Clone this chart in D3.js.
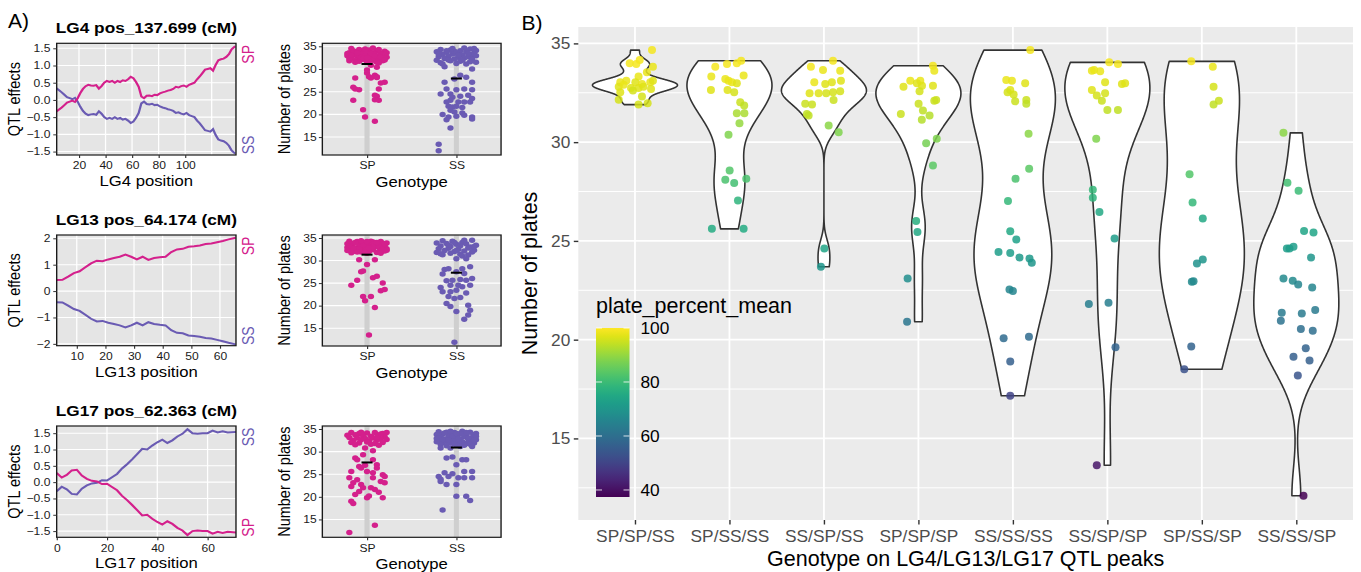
<!DOCTYPE html>
<html lang="en">
<head>
<meta charset="UTF-8">
<script src="https://cdn.jsdelivr.net/npm/d3@7"></script>
<title>QTL effects and number of plates</title>
<style>
  body { margin: 0; background: #fff; }
  svg text { font-family: "Liberation Sans", Arial, Helvetica, sans-serif; }
</style>
</head>
<body>
<svg id="fig" width="1361" height="572"></svg>
<script>
// ---------- panel A : QTL effect profiles ----------
const LG4_POS = [3,5,7,9,11,13,15,17,19,21,23,25,27,29,31,33,35,37,39,41,43,45,47,49,51,53,55,57,59,61,63,65,67,69,71,73,75,77,79,81,83,85,87,89,91,93,95,97,99,101,103,105,107,109,111,113,115,117,119,121,123,125,127,129,131,133,135,137.7];
const LG4_SP = [-0.34,-0.28,-0.22,-0.15,-0.08,-0.05,-0.02,-0.06,0.05,0.2,0.32,0.4,0.44,0.42,0.41,0.43,0.33,0.4,0.5,0.55,0.52,0.55,0.5,0.55,0.52,0.57,0.55,0.6,0.67,0.63,0.52,0.38,0.1,0.05,0.12,0.13,0.11,0.15,0.14,0.19,0.22,0.24,0.27,0.29,0.32,0.38,0.36,0.4,0.42,0.38,0.44,0.47,0.5,0.6,0.68,0.78,0.88,0.9,0.92,0.85,1.02,1.15,1.18,1.2,1.25,1.33,1.47,1.56];
const LG4_SS = [0.34,0.28,0.22,0.15,0.08,0.05,0.02,0.06,-0.05,-0.2,-0.32,-0.4,-0.44,-0.42,-0.41,-0.43,-0.33,-0.4,-0.5,-0.55,-0.52,-0.55,-0.5,-0.55,-0.52,-0.57,-0.55,-0.6,-0.67,-0.63,-0.52,-0.38,-0.1,-0.05,-0.12,-0.13,-0.11,-0.15,-0.14,-0.19,-0.22,-0.24,-0.27,-0.29,-0.32,-0.38,-0.36,-0.4,-0.42,-0.38,-0.44,-0.47,-0.5,-0.6,-0.68,-0.78,-0.88,-0.9,-0.92,-0.85,-1.02,-1.15,-1.18,-1.2,-1.25,-1.33,-1.47,-1.56];

const LG13_POS = [3,5,7,9,11,13,15,17,19,21,23,25,27,29,31,33,35,37,39,41,43,45,47,49,51,53,55,57,59,61,63,65.5];
const LG13_SP = [0.42,0.43,0.55,0.68,0.75,0.9,1.05,1.15,1.13,1.2,1.25,1.3,1.38,1.3,1.2,1.3,1.18,1.25,1.28,1.3,1.48,1.58,1.6,1.68,1.7,1.73,1.78,1.8,1.85,1.9,1.96,2.02];
const LG13_SS = [-0.42,-0.43,-0.55,-0.68,-0.75,-0.9,-1.05,-1.15,-1.13,-1.2,-1.25,-1.3,-1.38,-1.3,-1.2,-1.3,-1.18,-1.25,-1.28,-1.3,-1.48,-1.58,-1.6,-1.68,-1.7,-1.73,-1.78,-1.8,-1.85,-1.9,-1.96,-2.02];

const LG17_POS = [0,2,4,6,8,10,12,14,16,18,20,22,24,26,28,30,32,34,36,38,40,42,44,46,48,50,52,54,56,58,60,62,64,66,68,71.3];
const LG17_SP = [0.28,0.14,0.22,0.36,0.38,0.2,0.1,0.04,0.02,-0.06,-0.05,-0.15,-0.25,-0.42,-0.55,-0.7,-0.86,-1.02,-1.0,-1.12,-1.22,-1.3,-1.2,-1.28,-1.4,-1.48,-1.62,-1.5,-1.48,-1.5,-1.5,-1.58,-1.52,-1.56,-1.52,-1.54];
const LG17_SS = [-0.28,-0.14,-0.22,-0.36,-0.38,-0.2,-0.1,-0.04,-0.02,0.06,0.05,0.15,0.25,0.42,0.55,0.7,0.86,1.02,1.0,1.12,1.22,1.3,1.2,1.28,1.4,1.48,1.62,1.5,1.48,1.5,1.5,1.58,1.52,1.56,1.52,1.54];

// ---------- panel A : number of plates by genotype, [jitter (tenths), plates] ----------
const GENOTYPES = ["SP", "SS"];
const LG4_PTS_SP = [[-8,34.5],[-4,34.3],[1,34.2],[5,34.0],[9,33.9],[-9,33.6],[-6,33.8],[-2,33.7],[3,33.6],[7,33.5],[-7,33.2],[-3,33.3],[0,33.1],[4,33.2],[8,33.3],[-10,32.9],[-5,32.8],[-1,32.9],[2,32.7],[6,32.8],[10,32.6],[-8,32.4],[-4,32.5],[1,32.3],[5,32.4],[9,32.2],[-6,32.0],[-2,32.1],[3,31.9],[7,32.0],[-9,31.8],[-4,31.7],[0,31.6],[5,31.5],[8,31.8],[-7,34.0],[-1,33.9],[6,34.3],[-5,33.5],[2,33.4],[9,33.0],[-3,32.6],[4,32.9],[-9,32.3],[7,32.6],[-6,31.5],[1,31.8],[-1,34.4],[3,34.6],[-10,33.4],[10,33.6],[-2,32.3],[6,31.3],[-8,33.0],[0,32.5],
  [-6,28.0],[-7,26.0],[-6,25.6],[-4,25.4],[-7,23.1],[-2,21.0],[-1,19.4],[4,18.5],[0,29.1],[1,28.3],[2,28.0],[4,28.6],[5,28.3],[5,28.1],[6,25.6],[7,26.9],[9,27.1],[4,24.2],[5,24.0],[4,23.2],[6,23.1],[0,29.8],[2,30.8],[5,30.4],[9,32.0]];
const LG4_PTS_SS = [[-8,34.3],[-3,34.2],[2,34.0],[7,34.4],[10,34.1],[-10,33.8],[-5,33.7],[0,33.6],[5,33.8],[9,33.5],[-7,33.2],[-2,33.3],[3,33.1],[8,33.0],[-9,32.7],[-4,32.8],[1,32.6],[6,32.7],[10,32.9],[-6,32.3],[-1,32.2],[4,32.4],[8,32.1],[-10,31.9],[-3,31.8],[2,31.7],[7,31.6],[-8,31.4],[0,31.2],[5,31.1],[-5,34.0],[4,34.6],[9,34.5],[-1,33.9],[-9,33.3],[6,33.4],[-4,32.0],[3,31.9],[10,31.5],[-7,31.1],[1,33.0],[-2,34.5],
  [-6,30.5],[8,30.0],[2,28.6],[-1,27.8],[5,28.2],[-6,27.1],[8,27.1],[-5,25.6],[0,25.4],[4,25.6],[8,25.4],[-8,24.5],[-3,24.5],[-2,23.8],[2,24.0],[6,24.2],[8,23.5],[-5,22.7],[-3,23.1],[1,22.7],[4,22.7],[7,22.7],[-4,21.8],[-2,21.6],[0,21.8],[3,21.5],[-3,20.9],[-1,20.5],[3,20.3],[-7,20.0],[4,19.8],[-5,18.8],[-4,19.4],[0,19.6],[8,19.4],[8,19.0],[-3,17.0],[-9,13.4],[-9,12.0]];
const LG13_PTS_SP = [[-9,34.3],[-5,34.2],[-1,34.0],[3,34.1],[7,34.2],[10,33.9],[-10,33.7],[-7,33.8],[-3,33.6],[1,33.7],[5,33.5],[8,33.8],[-8,33.3],[-4,33.2],[0,33.3],[4,33.1],[9,33.3],[-10,32.9],[-6,32.8],[-2,32.9],[2,32.7],[6,32.9],[10,32.6],[-9,32.4],[-5,32.5],[-1,32.3],[3,32.4],[7,32.2],[-7,32.0],[-3,31.9],[1,32.0],[5,31.8],[9,32.1],[-8,31.7],[0,31.6],[-6,34.0],[2,34.3],[6,33.2],[-2,33.4],[8,32.5],[-4,32.6],[4,33.9],[-9,33.1],[10,32.3],[-1,31.8],[3,33.0],[-5,31.9],[7,31.6],[-10,32.2],[5,34.0],[-3,34.4],[1,32.8],[9,33.6],[-7,32.7],[0,34.2],
  [-4,30.2],[0,29.1],[4,30.2],[-3,27.5],[-2,27.7],[-5,25.6],[-8,24.5],[3,26.2],[5,26.5],[8,25.0],[7,23.3],[9,23.6],[-2,22.0],[2,22.0],[-1,21.1],[4,19.6],[1,13.5]];
const LG13_PTS_SS = [[-7,34.4],[-2,34.3],[3,34.0],[8,34.5],[-10,33.9],[-5,33.8],[0,33.6],[5,33.7],[10,33.4],[-8,33.2],[-3,33.1],[2,33.3],[7,33.0],[-9,32.6],[-4,32.7],[1,32.5],[6,32.8],[9,32.3],[-6,32.2],[-1,32.0],[4,32.1],[8,31.9],[-10,31.8],[-3,31.6],[2,31.4],[6,31.2],[-7,31.3],[-1,34.0],[4,34.5],[-4,33.4],[9,33.1],[0,32.2],[-8,31.5],[3,31.0],
  [0,30.4],[5,30.4],[-6,28.0],[-4,28.2],[3,28.2],[7,28.6],[4,27.1],[0,27.5],[-7,27.0],[8,26.0],[-5,25.5],[-2,25.6],[2,25.8],[5,25.6],[-8,24.0],[-3,24.5],[1,24.5],[3,24.2],[7,24.5],[-7,23.1],[-3,23.1],[0,23.4],[5,22.8],[-4,22.0],[-1,21.6],[2,21.8],[-5,20.5],[-3,19.8],[6,20.1],[7,19.0],[0,18.7],[6,17.9],[4,17.0],[-1,11.9]];
const LG17_PTS_SP = [[-8,34.2],[-4,34.0],[0,34.1],[4,34.2],[8,34.0],[10,34.2],[-10,33.6],[-6,33.7],[-2,33.5],[2,33.4],[6,33.6],[9,33.3],[-9,33.1],[-5,33.0],[-1,32.9],[3,33.0],[7,32.8],[-7,32.5],[-3,32.6],[1,32.4],[5,32.5],[10,32.7],[-8,32.0],[-4,31.9],[0,32.1],[4,31.8],[8,32.0],[-6,31.5],[2,31.6],[6,31.4],[-1,30.8],[3,30.2],[-2,29.3],[7,33.9],[-3,34.3],[5,33.2],
  [-6,28.6],[-5,28.2],[3,28.2],[5,27.1],[-4,26.7],[-3,26.4],[5,26.4],[-8,25.6],[0,25.6],[3,25.3],[8,24.9],[9,24.5],[-9,24.2],[-5,23.8],[3,24.2],[7,23.4],[9,23.1],[-7,23.1],[-3,22.7],[-2,22.0],[2,22.0],[4,21.6],[-8,22.3],[-4,21.2],[0,19.8],[8,19.8],[-8,19.0],[-7,18.5],[-9,12.1],[4,13.7],[-6,20.5],[1,20.2],[6,21.0],[-1,27.0]];
const LG17_PTS_SS = [[-9,34.4],[-5,34.3],[-1,34.2],[3,34.5],[7,34.3],[10,34.0],[-10,33.8],[-7,33.9],[-3,33.7],[1,33.8],[5,33.6],[9,33.7],[-8,33.3],[-4,33.4],[0,33.2],[4,33.3],[8,33.1],[-10,32.9],[-6,32.8],[-2,32.9],[2,32.7],[6,32.8],[10,32.6],[-9,32.4],[-5,32.3],[-1,32.5],[3,32.2],[7,32.4],[-7,32.0],[-3,31.9],[1,32.0],[5,31.8],[9,31.9],[-8,31.6],[0,31.5],[4,31.4],[-6,34.1],[2,34.0],[6,33.0],[-2,33.4],[8,32.1],[-4,32.6],[-9,33.0],[10,33.4],[-1,31.7],[3,33.9],[-5,31.3],[7,31.6],[-10,32.2],[5,34.2],[1,32.9],[-3,34.5],[9,32.5],[-7,32.7],[0,34.0],
  [-8,30.8],[-3,30.8],[2,31.1],[8,31.1],[-5,28.6],[-2,28.8],[3,28.2],[5,28.2],[0,27.1],[-6,25.3],[-2,25.1],[4,25.6],[8,25.6],[-9,24.5],[-8,23.9],[-4,24.5],[1,24.2],[4,24.2],[8,24.2],[-5,22.7],[0,22.7],[-8,23.4],[0,20.1],[5,20.1],[7,19.2],[-7,17.1]];
const MEANS_LG4 = [31.1, 27.9];
const MEANS_LG13 = [31.3, 27.3];
const MEANS_LG17 = [27.6, 30.9];

// ---------- panel B : [jitter (fraction), plates, plate_percent_mean] ----------
const B_CATS = ["SP/SP/SS","SP/SS/SS","SS/SP/SS","SP/SP/SP","SS/SS/SS","SS/SP/SP","SP/SS/SP","SS/SS/SP"];
const B_SPSPSS = [[0.9,34.66,99],[-0.28,33.99,99],[0.07,33.96,99],[0.25,34.16,99],[0.95,33.82,98],[0.63,33.54,98],[0.19,33.32,98],[-0.78,33.03,98],[-0.46,33.11,98],[0.02,33.03,97],[0.37,32.95,98],[0.81,33.03,98],[0.95,33.11,97],[-0.86,32.81,97],[-0.21,32.74,97],[0.19,32.74,97],[0.85,32.69,97],[-0.11,32.61,96],[-0.78,32.53,97],[-0.86,32.15,96],[0.37,32.31,96],[0.19,31.9,96],[0.67,31.97,96],[0.45,32.8,97],[-0.6,32.9,98]];
const B_SPSSSS = [[-0.75,33.82,99],[-0.13,33.96,99],[0.39,33.99,99],[0.62,34.12,99],[-0.96,33.32,98],[-0.22,33.2,98],[-0.05,33.11,98],[0.13,33.03,98],[0.39,32.98,97],[0.75,33.37,98],[-0.98,32.64,97],[-0.1,32.64,97],[0.25,32.53,96],[0.57,32.02,95],[0.78,31.85,94],[0.39,31.46,92],[0.79,31.46,92],[0.53,30.96,90],[-0.05,30.37,88],[0.01,28.57,83],[-0.22,28.1,82],[0.25,27.93,81],[0.89,28.15,82],[0.45,27.05,78],[-0.93,25.61,76],[0.75,25.61,76]];
const B_SSSPSS = [[-0.69,33.82,99],[0.48,34.12,99],[0.86,33.62,98],[-0.05,33.65,98],[-0.51,33.03,98],[0.07,32.95,97],[0.42,33.03,97],[0.9,33.11,97],[-0.76,32.47,97],[-0.28,32.47,97],[0.12,32.47,96],[0.48,32.53,96],[0.86,32.58,96],[0.51,32.14,95],[-0.99,31.94,95],[-0.63,31.9,95],[-0.9,31.43,94],[-0.81,31.35,94],[0.25,30.84,89],[0.78,30.5,88],[0.02,24.61,74],[-0.16,23.69,70]];
const B_SPSPSP = [[0.77,33.87,99],[0.84,33.62,98],[-0.79,32.81,97],[-0.43,33.11,98],[0.1,33.11,98],[-0.08,32.98,97],[0.19,32.86,97],[0.77,32.86,97],[0.06,32.58,96],[0.84,32.1,95],[0.94,32.14,95],[0.01,31.94,95],[0.24,31.6,94],[-0.93,31.43,95],[0.59,31.35,93],[0.18,31.13,93],[0.97,30.17,88],[0.41,29.95,87],[0.77,28.82,84],[-0.12,26.01,77],[-0.05,25.45,75],[-0.57,23.1,68],[-0.6,20.91,62]];
const B_SSSSSS = [[0.92,34.66,99],[-0.35,33.15,98],[-0.05,33.11,98],[0.65,32.98,97],[-0.14,32.64,97],[-0.28,32.53,96],[0.04,32.41,96],[0.71,32.14,95],[0.12,32.07,95],[0.71,31.94,94],[0.83,30.42,89],[0.86,28.65,84],[0.14,28.15,82],[-0.26,27.02,79],[-0.14,25.49,75],[0.18,25.07,73],[-0.76,24.44,72],[-0.14,24.39,72],[0.35,24.16,71],[0.88,24.11,71],[1.0,23.89,70],[-0.18,22.54,66],[0,22.46,66],[-0.49,20.07,59],[0.85,20.15,59],[-0.14,18.89,56],[-0.14,17.16,50]];
const B_SSSPSP = [[0.1,34.04,99],[0.56,33.96,99],[-0.82,33.62,98],[-0.7,33.65,98],[-0.38,33.59,98],[-0.12,33.03,97],[0.77,32.95,97],[0.94,32.98,97],[-0.82,32.64,97],[-0.12,32.47,96],[-0.56,32.36,96],[-0.29,32.1,95],[0,31.63,94],[0.56,31.63,94],[-0.59,30.17,88],[-0.77,27.59,79],[-0.77,27.19,78],[-0.42,26.46,75],[0.38,25.12,72],[-0.98,21.8,64],[0.06,21.87,64],[0.43,19.62,57],[-0.56,13.64,41]];
const B_SPSSSP = [[-0.56,34.09,99],[0.58,33.82,98],[0.62,32.81,96],[0.9,32.1,95],[0.62,31.9,94],[-0.65,28.37,83],[-0.49,26.94,79],[0.05,26.13,75],[0.05,24.06,70],[-0.26,23.86,69],[-0.53,22.93,67],[-0.44,22.96,67],[-0.56,19.65,57],[-0.93,18.5,53]];
const B_SSSSSP = [[-0.68,30.47,89],[-0.47,27.95,81],[0.12,27.54,80],[0.41,25.5,74],[0.91,25.42,74],[-0.5,24.61,72],[-0.36,24.61,72],[-0.15,24.7,72],[0.78,24.16,70],[-0.68,23.1,67],[-0.19,22.98,67],[0.1,22.79,66],[0.84,22.64,66],[-0.77,21.36,63],[0.29,21.33,63],[1.0,21.5,63],[-0.82,20.96,61],[0.24,20.54,60],[0.87,20.45,60],[0.5,19.56,57],[-0.15,19.14,56],[0.7,18.94,56],[0.08,18.18,54],[0.38,12.1,37.5]];
const B_GROUPS = [B_SPSPSS, B_SPSSSS, B_SSSPSS, B_SPSPSP, B_SSSSSS, B_SSSPSP, B_SPSSSP, B_SSSSSP];
const LEGEND_TICKS = [40, 60, 80, 100];

// ---------- drawing ----------
const svg = d3.select("#fig");
const SP_COL = "#d4208c", SS_COL = "#6a5bb3";
const SX = 1.15;   // panel A is a bit wider than tall in the source
const A = svg.append("g").attr("transform", `scale(${SX},1)`);

function styleAxis(ax, size, col) {
  ax.select(".domain").remove();
  ax.selectAll(".tick line").attr("stroke", "#333");
  ax.selectAll(".tick text").attr("font-size", size).attr("fill", col || "#1a1a1a");
}

function qtlPanel(o) {
  const g = A.append("g");
  const x = d3.scaleLinear().domain(o.xDomain).range([o.left, o.right]);
  const y = d3.scaleLinear().domain(o.yDomain).range([o.bottom, o.top]);
  g.append("rect").attr("x", o.left).attr("y", o.top)
    .attr("width", o.right - o.left).attr("height", o.bottom - o.top).attr("fill", "#e5e5e5");
  g.selectAll("line.gy").data(o.yTicks).join("line").attr("class", "gy")
    .attr("x1", o.left).attr("x2", o.right).attr("y1", d => y(d)).attr("y2", d => y(d))
    .attr("stroke", "#fff").attr("stroke-width", 1.1);
  g.selectAll("line.gx").data(o.xGrid).join("line").attr("class", "gx")
    .attr("x1", d => x(d)).attr("x2", d => x(d)).attr("y1", o.top).attr("y2", o.bottom)
    .attr("stroke", "#fff").attr("stroke-width", 1.1);
  g.append("clipPath").attr("id", "clip" + o.id).append("rect")
    .attr("x", o.left).attr("y", o.top).attr("width", o.right - o.left).attr("height", o.bottom - o.top);
  const line = d3.line().x(d => x(d[0])).y(d => y(d[1]));
  g.append("path").datum(d3.zip(o.pos, o.ss)).attr("d", line)
    .attr("fill", "none").attr("stroke", SS_COL).attr("stroke-width", 2).attr("clip-path", `url(#clip${o.id})`);
  g.append("path").datum(d3.zip(o.pos, o.sp)).attr("d", line)
    .attr("fill", "none").attr("stroke", SP_COL).attr("stroke-width", 2).attr("clip-path", `url(#clip${o.id})`);
  g.append("rect").attr("x", o.left).attr("y", o.top)
    .attr("width", o.right - o.left).attr("height", o.bottom - o.top)
    .attr("fill", "none").attr("stroke", "#1a1a1a").attr("stroke-width", 1.2);
  const ya = g.append("g").attr("transform", `translate(${o.left},0)`)
    .call(d3.axisLeft(y).tickValues(o.yTicks).tickFormat(d3.format(o.yFmt)).tickSize(3).tickPadding(2.5));
  const xa = g.append("g").attr("transform", `translate(0,${o.bottom})`)
    .call(d3.axisBottom(x).tickValues(o.xLabels).tickSize(3).tickPadding(4));
  styleAxis(ya, 10.5); styleAxis(xa, 10.5);
  const cx = (o.left + o.right) / 2;
  g.append("text").attr("x", cx).attr("y", o.top - 10).attr("text-anchor", "middle")
    .attr("font-weight", "bold").attr("font-size", 15).text(o.title);
  g.append("text").attr("x", cx).attr("y", o.bottom + 31).attr("text-anchor", "middle")
    .attr("font-size", 14.5).text(o.xTitle);
  g.append("text").attr("transform", `translate(17.4,${(o.top + o.bottom) / 2}) rotate(-90)`)
    .attr("text-anchor", "middle").attr("font-size", 14.5).text("QTL effects");
  g.append("text").attr("transform", `translate(${o.right + 16},${o.top + 11}) rotate(-90)`)
    .attr("text-anchor", "middle").attr("font-size", 14).attr("fill", o.topCol).text(o.topLab);
  g.append("text").attr("transform", `translate(${o.right + 16},${o.bottom - 10}) rotate(-90)`)
    .attr("text-anchor", "middle").attr("font-size", 14).attr("fill", o.botCol).text(o.botLab);
}

function jitterPanel(o) {
  const g = A.append("g");
  const x = d3.scalePoint().domain(GENOTYPES).range([o.left, o.right]).padding(0.5);
  const y = d3.scaleLinear().domain([11.05, 35.66]).range([o.bottom, o.top]);
  const jw = 0.22 * x.step();
  g.append("rect").attr("x", o.left).attr("y", o.top)
    .attr("width", o.right - o.left).attr("height", o.bottom - o.top).attr("fill", "#e5e5e5");
  g.selectAll("line.gy").data([15, 20, 25, 30, 35]).join("line").attr("class", "gy")
    .attr("x1", o.left).attr("x2", o.right).attr("y1", d => y(d)).attr("y2", d => y(d))
    .attr("stroke", "#fff").attr("stroke-width", 1.1);
  g.selectAll("rect.band").data(GENOTYPES).join("rect").attr("class", "band")
    .attr("x", d => x(d) - 2.2).attr("width", 4.4).attr("y", o.top).attr("height", o.bottom - o.top)
    .attr("fill", "#cfcfcf");
  [[o.sp, "SP", SP_COL], [o.ss, "SS", SS_COL]].forEach(([pts, cat, col]) => {
    g.append("g").selectAll("circle").data(pts).join("circle")
      .attr("cx", d => x(cat) + d[0] / 10 * jw).attr("cy", d => y(d[1]))
      .attr("r", 2.75).attr("fill", col);
  });
  g.selectAll("line.mean").data(GENOTYPES).join("line").attr("class", "mean")
    .attr("x1", d => x(d) - 4.8).attr("x2", d => x(d) + 4.8)
    .attr("y1", (d, i) => y(o.means[i])).attr("y2", (d, i) => y(o.means[i]))
    .attr("stroke", "#000").attr("stroke-width", 2);
  g.append("rect").attr("x", o.left).attr("y", o.top)
    .attr("width", o.right - o.left).attr("height", o.bottom - o.top)
    .attr("fill", "none").attr("stroke", "#1a1a1a").attr("stroke-width", 1.2);
  const ya = g.append("g").attr("transform", `translate(${o.left},0)`)
    .call(d3.axisLeft(y).tickValues([15, 20, 25, 30, 35]).tickSize(3).tickPadding(2));
  const xa = g.append("g").attr("transform", `translate(0,${o.bottom})`)
    .call(d3.axisBottom(x).tickSize(3).tickPadding(4));
  styleAxis(ya, 10.5); styleAxis(xa, 10.5);
  g.append("text").attr("x", (o.left + o.right) / 2).attr("y", o.bottom + 32)
    .attr("text-anchor", "middle").attr("font-size", 14.5).text("Genotype");
  g.append("text").attr("transform", `translate(252.6,${(o.top + o.bottom) / 2}) rotate(-90)`)
    .attr("text-anchor", "middle").attr("font-size", 14.5).text("Number of plates");
}

const ROWS = [[43.3, 155], [235, 345.7], [426, 537.3]];
const QL = 49.3, QR = 205.2, JL = 280.3, JR = 435.7;

qtlPanel({id: 4, left: QL, right: QR, top: ROWS[0][0], bottom: ROWS[0][1],
  pos: LG4_POS, sp: LG4_SP, ss: LG4_SS, xDomain: [3.2, 138.3], yDomain: [-1.6, 1.645],
  xGrid: [20, 40, 60, 80, 100, 120], xLabels: [20, 40, 60, 80, 100],
  yTicks: [-1.5, -1, -0.5, 0, 0.5, 1, 1.5], yFmt: ".1f",
  title: "LG4 pos_137.699 (cM)", xTitle: "LG4 position",
  topLab: "SP", topCol: SP_COL, botLab: "SS", botCol: SS_COL});
qtlPanel({id: 13, left: QL, right: QR, top: ROWS[1][0], bottom: ROWS[1][1],
  pos: LG13_POS, sp: LG13_SP, ss: LG13_SS, xDomain: [3, 65.6], yDomain: [-2.07, 2.125],
  xGrid: [10, 20, 30, 40, 50, 60], xLabels: [10, 20, 30, 40, 50, 60],
  yTicks: [-2, -1, 0, 1, 2], yFmt: "d",
  title: "LG13 pos_64.174 (cM)", xTitle: "LG13 position",
  topLab: "SP", topCol: SP_COL, botLab: "SS", botCol: SS_COL});
qtlPanel({id: 17, left: QL, right: QR, top: ROWS[2][0], bottom: ROWS[2][1],
  pos: LG17_POS, sp: LG17_SP, ss: LG17_SS, xDomain: [0, 71.3], yDomain: [-1.69, 1.72],
  xGrid: [0, 20, 40, 60], xLabels: [0, 20, 40, 60],
  yTicks: [-1.5, -1, -0.5, 0, 0.5, 1, 1.5], yFmt: ".1f",
  title: "LG17 pos_62.363 (cM)", xTitle: "LG17 position",
  topLab: "SS", topCol: SS_COL, botLab: "SP", botCol: SP_COL});

jitterPanel({left: JL, right: JR, top: ROWS[0][0], bottom: ROWS[0][1], sp: LG4_PTS_SP, ss: LG4_PTS_SS, means: MEANS_LG4});
jitterPanel({left: JL, right: JR, top: ROWS[1][0], bottom: ROWS[1][1] + 0.3, sp: LG13_PTS_SP, ss: LG13_PTS_SS, means: MEANS_LG13});
jitterPanel({left: JL, right: JR, top: ROWS[2][0], bottom: ROWS[2][1], sp: LG17_PTS_SP, ss: LG17_PTS_SS, means: MEANS_LG17});

svg.append("text").attr("x", 8).attr("y", 28).attr("font-size", 21).text("A)");

// ---------- panel B ----------
const B = {left: 578.3, right: 1353, top: 27, bottom: 520};
const bx = d3.scalePoint().domain(B_CATS).range([B.left, B.right]).padding(0.6);
const by = d3.scaleLinear().domain([10.87, 35.83]).range([B.bottom, B.top]);
const color = d3.scaleSequential(d3.interpolateViridis).domain([37.4, 100]);
const gB = svg.append("g");

gB.append("rect").attr("x", B.left).attr("y", B.top)
  .attr("width", B.right - B.left).attr("height", B.bottom - B.top).attr("fill", "#ebebeb");
gB.selectAll("line.minor").data([12.5, 17.5, 22.5, 27.5, 32.5]).join("line").attr("class", "minor")
  .attr("x1", B.left).attr("x2", B.right).attr("y1", d => by(d)).attr("y2", d => by(d))
  .attr("stroke", "#fff").attr("stroke-width", 1);
gB.selectAll("line.major").data([15, 20, 25, 30, 35]).join("line").attr("class", "major")
  .attr("x1", B.left).attr("x2", B.right).attr("y1", d => by(d)).attr("y2", d => by(d))
  .attr("stroke", "#fff").attr("stroke-width", 1.8);
gB.selectAll("line.vmajor").data(B_CATS).join("line").attr("class", "vmajor")
  .attr("x1", d => bx(d)).attr("x2", d => bx(d)).attr("y1", B.top).attr("y2", B.bottom)
  .attr("stroke", "#fff").attr("stroke-width", 1.8);

// violins: gaussian kernel density, nrd0 bandwidth, trimmed, equal max width
function density(vals) {
  const s = vals.slice().sort(d3.ascending);
  const sd = d3.deviation(s);
  let lo = Math.min(sd, (d3.quantile(s, 0.75) - d3.quantile(s, 0.25)) / 1.34);
  if (!(lo > 0)) lo = sd;
  const bw = 0.9 * lo * Math.pow(s.length, -0.2);
  const [mn, mx] = d3.extent(s);
  return d3.range(512).map(i => {
    const t = mn + (mx - mn) * i / 511;
    return [t, d3.mean(s, v => Math.exp(-0.5 * ((t - v) / bw) ** 2))];
  });
}

B_GROUPS.forEach((grp, gi) => {
  const cx = bx(B_CATS[gi]);
  const dens = density(grp.map(d => d[1]));
  const w = d3.scaleLinear().domain([0, d3.max(dens, d => d[1])]).range([0, 0.45 * bx.step()]);
  const area = d3.area().y(d => by(d[0])).x0(d => cx - w(d[1])).x1(d => cx + w(d[1]));
  gB.append("path").datum(dens).attr("d", area)
    .attr("fill", "#fff").attr("stroke", "#333").attr("stroke-width", 1.6).attr("stroke-linejoin", "round");
});

B_GROUPS.forEach((grp, gi) => {
  const cx = bx(B_CATS[gi]);
  gB.append("g").selectAll("circle").data(grp).join("circle")
    .attr("cx", d => cx + d[0] * 0.2 * bx.step()).attr("cy", d => by(d[1]))
    .attr("r", 4).attr("fill", d => color(d[2])).attr("fill-opacity", 0.85);
});

const bya = gB.append("g").attr("transform", `translate(${B.left},0)`)
  .call(d3.axisLeft(by).tickValues([15, 20, 25, 30, 35]).tickSize(4.5).tickPadding(3.5));
const bxa = gB.append("g").attr("transform", `translate(0,${B.bottom})`)
  .call(d3.axisBottom(bx).tickSize(4.5).tickPadding(5));
styleAxis(bya, 17.3, "#4d4d4d"); styleAxis(bxa, 17.3, "#4d4d4d");
bya.selectAll(".tick line").attr("stroke-width", 1.4);
bxa.selectAll(".tick line").attr("stroke-width", 1.4);

gB.append("text").attr("x", (B.left + B.right) / 2).attr("y", 566)
  .attr("text-anchor", "middle").attr("font-size", 21.5).text("Genotype on LG4/LG13/LG17 QTL peaks");
gB.append("text").attr("transform", `translate(536.5,${(B.top + B.bottom) / 2}) rotate(-90)`)
  .attr("text-anchor", "middle").attr("font-size", 21.5).text("Number of plates");
svg.append("text").attr("x", 521.5).attr("y", 30).attr("font-size", 21).text("B)");

// legend
const ly = d3.scaleLinear().domain([37.4, 100]).range([497, 328]);
const grad = svg.append("defs").append("linearGradient").attr("id", "vir")
  .attr("x1", 0).attr("y1", 1).attr("x2", 0).attr("y2", 0);
grad.selectAll("stop").data(d3.range(0, 1.0001, 0.05)).join("stop")
  .attr("offset", d => d).attr("stop-color", d => d3.interpolateViridis(d));
const leg = svg.append("g");
leg.append("text").attr("x", 596).attr("y", 313).attr("font-size", 21.5).text("plate_percent_mean");
leg.append("rect").attr("x", 596).attr("y", ly(100)).attr("width", 33.5)
  .attr("height", ly(37.4) - ly(100)).attr("fill", "url(#vir)");
leg.selectAll("line.tl").data(LEGEND_TICKS).join("line").attr("class", "tl")
  .attr("x1", 596).attr("x2", 602).attr("y1", d => ly(d)).attr("y2", d => ly(d))
  .attr("stroke", "#fff").attr("stroke-opacity", 0.8).attr("stroke-width", 1);
leg.selectAll("line.tr").data(LEGEND_TICKS).join("line").attr("class", "tr")
  .attr("x1", 623.5).attr("x2", 629.5).attr("y1", d => ly(d)).attr("y2", d => ly(d))
  .attr("stroke", "#fff").attr("stroke-opacity", 0.8).attr("stroke-width", 1);
leg.selectAll("text.tk").data(LEGEND_TICKS).join("text").attr("class", "tk")
  .attr("x", 640.5).attr("y", d => ly(d)).attr("dy", "0.36em").attr("font-size", 17.3).text(d => d);
</script>
</body>
</html>
